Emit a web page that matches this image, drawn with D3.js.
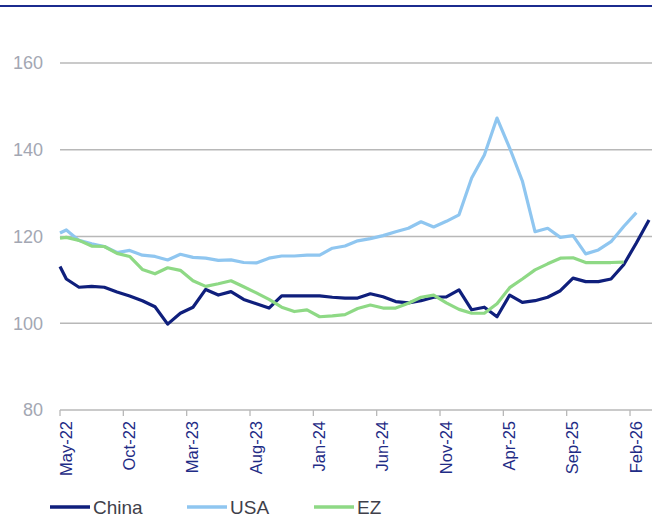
<!DOCTYPE html>
<html>
<head>
<meta charset="utf-8">
<script src="https://cdn.jsdelivr.net/npm/d3@7"></script>
<style>
  body { margin: 0; background: #fff; }
  svg { display: block; font-family: "Liberation Sans", Arial, sans-serif; }
</style>
</head>
<body>
<svg id="chart" width="652" height="518"></svg>
<script>
// x axis tick labels (every 5 months, starting May-22)
const tickLabels = ["May-22", "Oct-22", "Mar-23", "Aug-23", "Jan-24", "Jun-24", "Nov-24", "Apr-25", "Sep-25", "Feb-26"];
const yTicks = [80, 100, 120, 140, 160];

const seriesNames = ["China", "USA", "EZ"];
const seriesColors = ["#0f1f7c", "#8fc6f0", "#8ed985"];

// first value sits at the start of May-22, the rest are monthly mid-points
const china = [113.1, 110.2, 108.3, 108.5, 108.3, 107.2, 106.3, 105.2, 103.8, 99.8, 102.3, 103.7, 107.8, 106.5, 107.3, 105.5,
  104.5, 103.5, 106.3, 106.3, 106.3, 106.3, 106.0, 105.8, 105.8, 106.8, 106.1, 105.0, 104.7, 105.2, 106.0, 106.1,
  107.7, 103.1, 103.7, 101.5, 106.5, 104.8, 105.2, 106.0, 107.5, 110.4, 109.6, 109.6, 110.2, 113.5, 118.5, 123.8];
const usa = [120.8, 121.5, 119.1, 118.3, 117.7, 116.3, 116.8, 115.7, 115.4, 114.6, 115.9, 115.2, 115.0, 114.5, 114.6, 114.0,
  113.9, 115.0, 115.5, 115.5, 115.7, 115.7, 117.3, 117.8, 119.0, 119.5, 120.2, 121.1, 121.9, 123.4, 122.2, 123.5,
  125.0, 133.5, 138.8, 147.3, 140.4, 132.8, 121.1, 121.9, 119.8, 120.2, 116.0, 116.9, 118.8, 122.3, 125.5];
const ez = [119.6, 119.8, 119.1, 117.8, 117.7, 116.1, 115.4, 112.4, 111.4, 112.8, 112.2, 109.8, 108.5, 109.1, 109.8, 108.4,
  107.0, 105.5, 103.7, 102.7, 103.1, 101.5, 101.7, 102.0, 103.4, 104.2, 103.5, 103.5, 104.6, 106.0, 106.5, 104.7,
  103.2, 102.3, 102.3, 104.5, 108.2, 110.2, 112.3, 113.7, 115.0, 115.1, 114.0, 114.0, 114.0, 114.1];

const svg = d3.select("#chart");
const plotLeft = 60, plotRight = 652, plotTop = 63, plotBottom = 410;
const monthW = 12.667;

const x = d3.scaleLinear().domain([0, 1]).range([plotLeft, plotLeft + monthW]);
const y = d3.scaleLinear().domain([80, 160]).range([plotBottom, plotTop]);

// month position of each value: 0, then 0.5, 1.5, 2.5 ...
function monthOf(i) {
  return i === 0 ? 0 : i - 0.5;
}

// top rule
svg.append("line")
  .attr("x1", 0).attr("x2", 652)
  .attr("y1", 6).attr("y2", 6)
  .attr("stroke", "#1b2b8e")
  .attr("stroke-width", 2.2);

// gridlines + y labels
const yAxis = svg.append("g");
yAxis.selectAll("line")
  .data(yTicks.slice(1))
  .enter()
  .append("line")
  .attr("x1", plotLeft).attr("x2", plotRight)
  .attr("y1", d => y(d)).attr("y2", d => y(d))
  .attr("stroke", "#b8b8b8")
  .attr("stroke-width", 1.3);

yAxis.selectAll("text")
  .data(yTicks)
  .enter()
  .append("text")
  .attr("x", 43)
  .attr("y", d => y(d))
  .attr("dy", "0.35em")
  .attr("text-anchor", "end")
  .attr("fill", "#a3a7b3")
  .style("font-size", "18px")
  .text(d => d);

// x axis
const tickMonths = tickLabels.map((d, i) => i * 5);
const xAxis = svg.append("g");
xAxis.append("line")
  .attr("x1", plotLeft).attr("x2", plotRight)
  .attr("y1", plotBottom).attr("y2", plotBottom)
  .attr("stroke", "#b8b8b8")
  .attr("stroke-width", 1.3);

xAxis.selectAll(".tick")
  .data(tickMonths)
  .enter()
  .append("line")
  .attr("class", "tick")
  .attr("x1", d => x(d)).attr("x2", d => x(d))
  .attr("y1", plotBottom).attr("y2", plotBottom + 6)
  .attr("stroke", "#b8b8b8")
  .attr("stroke-width", 1.3);

xAxis.selectAll("text")
  .data(tickMonths)
  .enter()
  .append("text")
  .attr("transform", d => "translate(" + (x(d) + 11.5) + "," + (plotBottom + 11) + ") rotate(-90)")
  .attr("text-anchor", "end")
  .attr("fill", "#1f2c86")
  .style("font-size", "16.5px")
  .text((d, i) => tickLabels[i]);

// lines
const line = d3.line()
  .x((d, i) => x(monthOf(i)))
  .y(d => y(d));

[china, usa, ez].forEach(function (values, s) {
  svg.append("path")
    .datum(values)
    .attr("fill", "none")
    .attr("stroke", seriesColors[s])
    .attr("stroke-width", 3.2)
    .attr("stroke-linejoin", "round")
    .attr("d", line);
});

// legend
const legendX = [50, 187, 314];
const legend = svg.append("g");
seriesNames.forEach(function (name, i) {
  legend.append("line")
    .attr("x1", legendX[i]).attr("x2", legendX[i] + 40)
    .attr("y1", 507).attr("y2", 507)
    .attr("stroke", seriesColors[i])
    .attr("stroke-width", 3.5);
  legend.append("text")
    .attr("x", legendX[i] + 43)
    .attr("y", 507)
    .attr("dy", "0.35em")
    .attr("fill", "#3f3f4a")
    .style("font-size", "19px")
    .text(name);
});
</script>
</body>
</html>
